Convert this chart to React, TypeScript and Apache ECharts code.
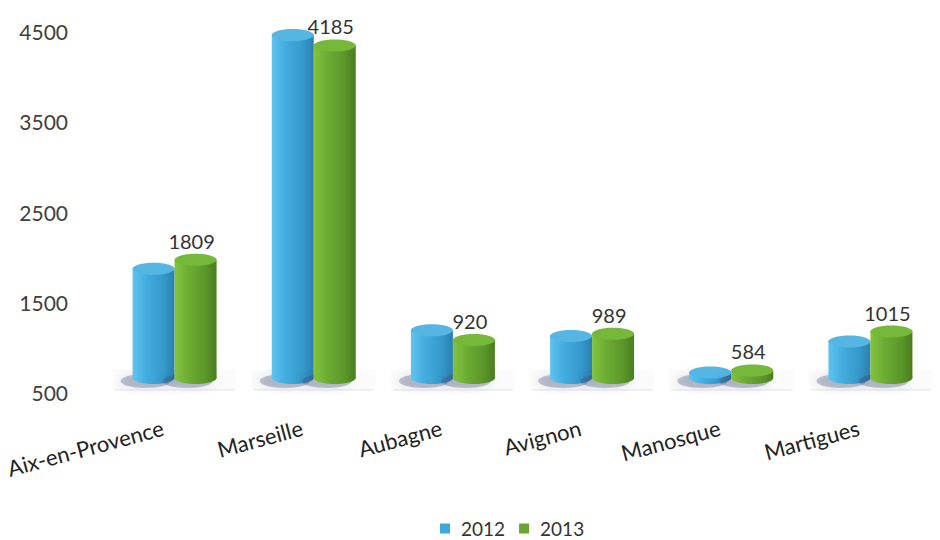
import React, { useEffect, useRef } from "react";
import * as echarts from "echarts";

const categories = ["Aix-en-Provence", "Marseille", "Aubagne", "Avignon", "Manosque", "Martigues"];
const values2012 = [1710, 4300, 1030, 965, 560, 905];
const values2013 = [1809, 4185, 920, 989, 584, 1015];
const seriesNames = ["2012", "2013"];

const BLUE = "#3ea8db";
const GREEN = "#69a532";
const FONT = "Lato, 'Open Sans', sans-serif";

function makeRender(offset: number, stops: string[], topColor: string, showLabel: boolean, drawFloor: boolean) {
  return (params: any, api: any) => {
    const idx = api.value(0);
    const val = api.value(1);
    const top = api.coord([idx, val]);
    const base = api.coord([idx, 500]);
    const w = 42;
    const rx = w / 2;
    const ry = 6;
    const cx = top[0] + offset;
    const grad = new echarts.graphic.LinearGradient(0, 0, 1, 0, [
      { offset: 0, color: stops[0] },
      { offset: 0.35, color: stops[1] },
      { offset: 0.75, color: stops[2] },
      { offset: 1, color: stops[3] },
    ]);
    const children: any[] = [];
    if (drawFloor) {
      children.push(
        {
          type: "rect",
          shape: { x: top[0] - 62, y: base[1] - 8, width: 124, height: 20 },
          style: { fill: "rgba(0,0,0,0.015)" },
        },
        {
          type: "line",
          shape: { x1: top[0] - 60, y1: base[1] + 12, x2: top[0] + 60, y2: base[1] + 12 },
          style: { stroke: "rgba(0,0,0,0.05)", lineWidth: 2 },
        }
      );
    }
    children.push(
      {
        type: "ellipse",
        shape: { cx: cx - 8, cy: base[1] + 3, rx: rx + 4, ry: ry + 1 },
        style: { fill: "rgba(60,70,110,0.3)", shadowBlur: 8, shadowColor: "rgba(60,70,110,0.5)" },
      },
      { type: "ellipse", shape: { cx, cy: base[1], rx, ry }, style: { fill: grad } },
      { type: "rect", shape: { x: cx - rx, y: top[1], width: w, height: base[1] - top[1] }, style: { fill: grad } },
      { type: "ellipse", shape: { cx, cy: top[1], rx, ry }, style: { fill: topColor } }
    );
    if (showLabel) {
      children.push({
        type: "text",
        x: cx - 4,
        y: top[1] - ry - 3,
        style: {
          text: String(val),
          fill: "#333",
          fontSize: 20,
          fontFamily: FONT,
          align: "center",
          verticalAlign: "bottom",
        },
      });
    }
    return { type: "group", children };
  };
}

export default function App() {
  const ref = useRef<HTMLDivElement>(null);
  useEffect(() => {
    if (!ref.current) return;
    const chart = echarts.init(ref.current, undefined, { renderer: "svg" });
    chart.setOption({
      animation: false,
      backgroundColor: "#ffffff",
      grid: { left: 105, width: 864, top: 17, height: 361 },
      legend: {
        data: seriesNames,
        top: 514,
        left: 435,
        icon: "rect",
        itemWidth: 10,
        itemHeight: 10,
        itemGap: 14,
        textStyle: { fontSize: 19, color: "#333", fontFamily: FONT, padding: [0, 0, 0, 6] },
      },
      xAxis: {
        type: "category",
        data: categories,
        axisLine: { show: false },
        axisTick: { show: false },
        axisLabel: {
          rotate: 15,
          fontSize: 22,
          color: "#222",
          fontFamily: FONT,
          margin: 46,
          padding: [0, 12, 0, 0],
          interval: 0,
        },
      },
      yAxis: {
        type: "value",
        min: 500,
        max: 4500,
        interval: 1000,
        axisLine: { show: false },
        axisTick: { show: false },
        splitLine: { show: false },
        axisLabel: {
          fontSize: 21,
          color: "#404040",
          fontFamily: FONT,
          margin: 37,
          verticalAlign: "top",
          padding: [4, 0, 0, 0],
          formatter: (v: number) => String(v),
        },
      },
      series: [
        {
          name: seriesNames[0],
          type: "custom",
          itemStyle: { color: BLUE },
          encode: { x: 0, y: 1 },
          data: values2012.map((v, i) => [i, v]),
          renderItem: makeRender(-21, ["#5ec3ee", "#42abde", "#3598ca", "#2a7fae"], "#55b6e4", false, true),
        },
        {
          name: seriesNames[1],
          type: "custom",
          itemStyle: { color: GREEN },
          encode: { x: 0, y: 1 },
          data: values2013.map((v, i) => [i, v]),
          renderItem: makeRender(21, ["#82c23f", "#6cab33", "#5b9529", "#4a7d1f"], "#76b83a", true, false),
        },
      ],
    });
    return () => chart.dispose();
  }, []);
  return <div ref={ref} style={{ position: "fixed", left: 0, top: 0, width: 940, height: 540 }} />;
}
